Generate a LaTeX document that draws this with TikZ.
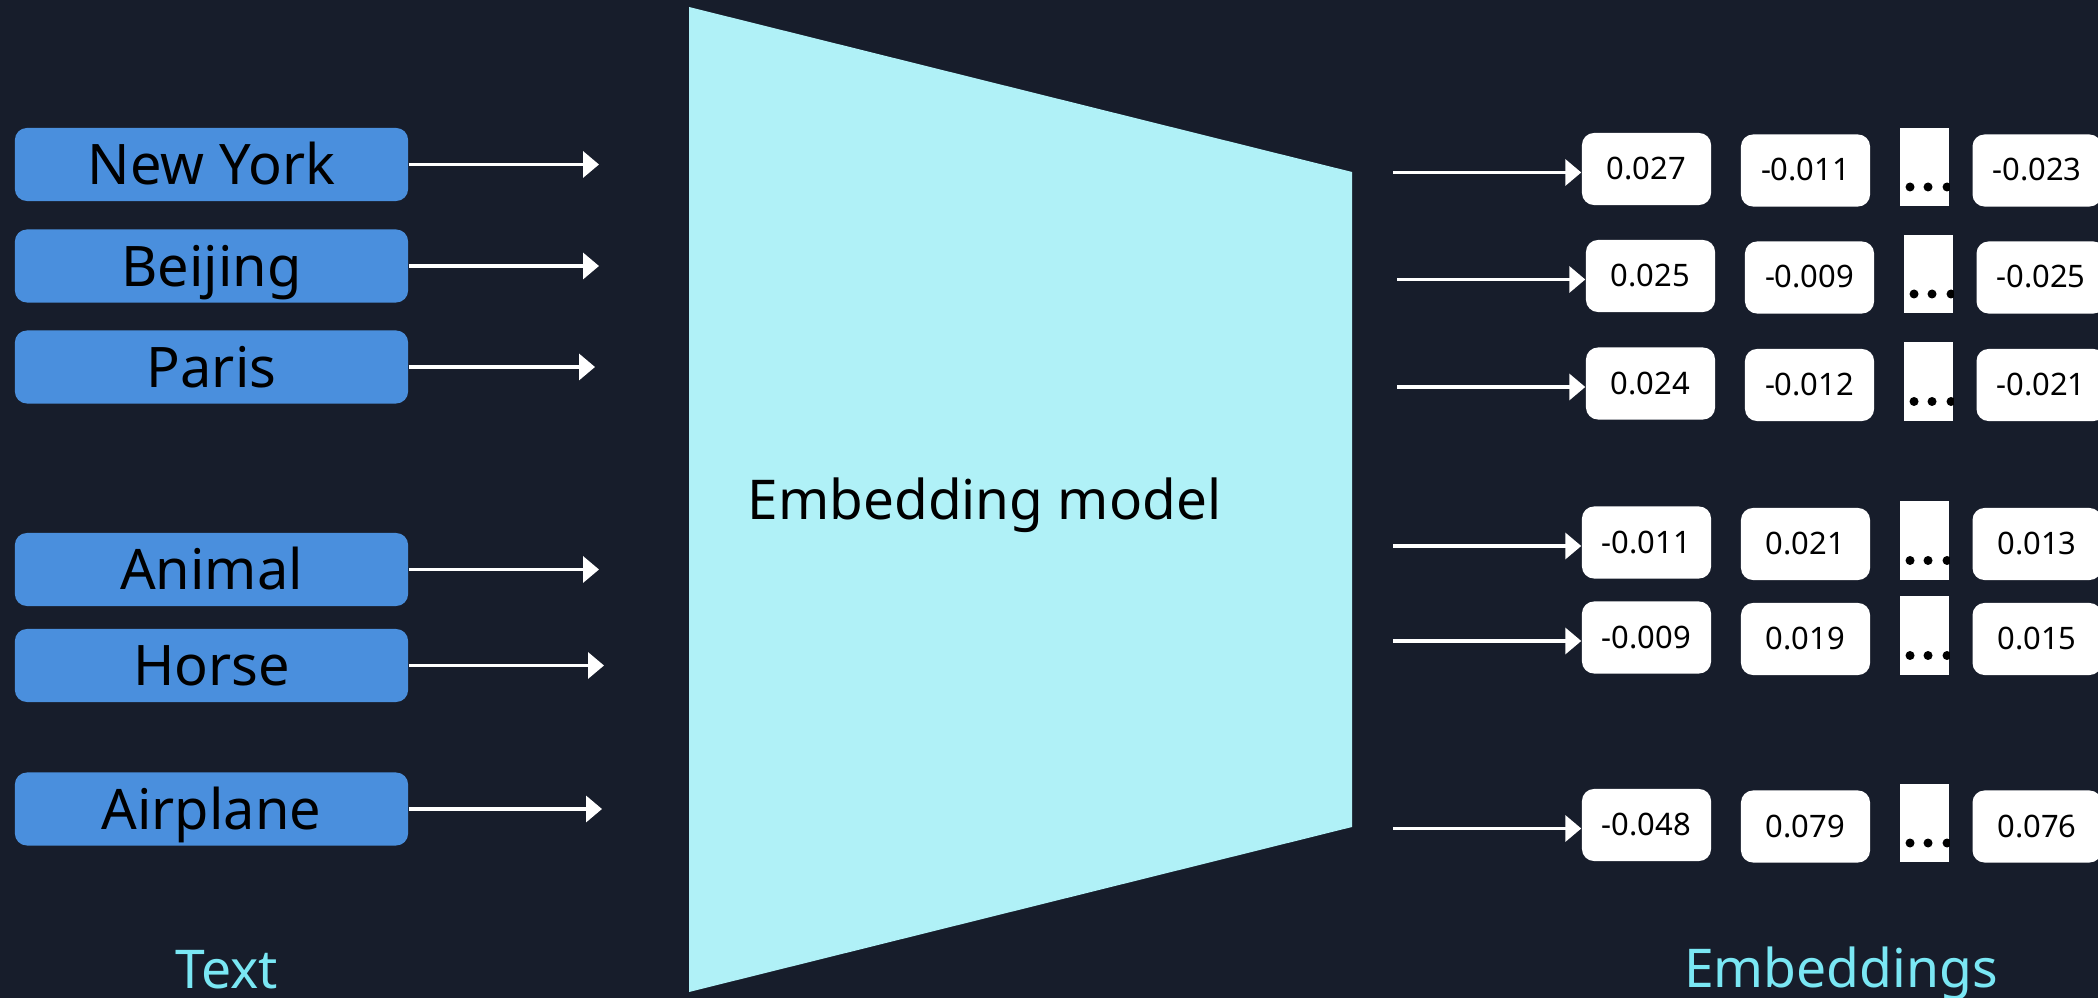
\documentclass[tikz,border=0pt]{standalone}
\usepackage{fontspec}
\setmainfont{Noto Sans}
\usetikzlibrary{arrows.meta}

\definecolor{bgnavy}{HTML}{171D2B}
\definecolor{boxblue}{HTML}{4A8FDD}
\definecolor{modelcyan}{HTML}{B0F1F7}
\definecolor{labelcyan}{HTML}{7AE7F4}

\tikzset{
  wordbox/.style={fill=boxblue, rounded corners=0.12cm, minimum width=3.93cm,
    minimum height=0.73cm, text height=0.40cm, text depth=0pt, inner sep=0pt,
    font=\fontsize{15.9pt}{18pt}\selectfont},
  valbox/.style={fill=white, rounded corners=0.12cm, minimum width=1.29cm,
    minimum height=0.72cm, text height=0.21cm, text depth=0pt, inner sep=0pt,
    font=\fontsize{8.8pt}{10pt}\selectfont},
  dotbox/.style={fill=white, minimum width=0.49cm, minimum height=0.78cm, inner sep=0pt},
  feed/.style={white, line width=1pt, -{Triangle[length=1.6mm,width=2.6mm]}},
  caption/.style={text=labelcyan, font=\fontsize{15.2pt}{18pt}\selectfont,
    text height=0.38cm, text depth=0pt, inner sep=0pt}
}

\begin{document}
\begin{tikzpicture}[x=0.01cm,y=-0.01cm]
  \fill[bgnavy] (0,0) rectangle (2098,998);
  \useasboundingbox (0,0) rectangle (2098,998);

  % model
  \fill[modelcyan] (689,7) -- (1352,172) -- (1352,827) -- (689,992) -- cycle;
  \node[font=\fontsize{15.6pt}{18pt}\selectfont, text height=0.40cm, text depth=0pt,
    inner sep=0pt] (model) at (984.5,499) {Embedding model};

  % inputs
  \node[wordbox] (newyork) at (211.5,164.5) {New York};
  \node[wordbox] (beijing) at (211.5,266) {Beijing};
  \node[wordbox] (paris) at (211.5,367) {Paris};
  \node[wordbox] (animal) at (211.5,569.5) {Animal};
  \node[wordbox] (horse) at (211.5,665.5) {Horse};
  \node[wordbox] (airplane) at (211.5,809) {Airplane};

  \coordinate (newyork-in) at (599,164.5);
  \coordinate (beijing-in) at (599,266);
  \coordinate (paris-in) at (595,367);
  \coordinate (animal-in) at (599,569.5);
  \coordinate (horse-in) at (604,665.5);
  \coordinate (airplane-in) at (602,809);
  \foreach \w in {newyork,beijing,paris,animal,horse,airplane}
    \draw[feed] (\w) -- (\w-in);

  % outputs
  \foreach \r/\dx/\cy/\va/\vb/\vd in {1/0/169/0.027/-0.011/-0.023,
      2/4/276/0.025/-0.009/-0.025, 3/4/383.5/0.024/-0.012/-0.021,
      4/0/542.5/-0.011/0.021/0.013, 5/0/637.5/-0.009/0.019/0.015,
      6/0/825/-0.048/0.079/0.076} {
    \node[valbox] (val\r-1) at (1646.5+\dx,\cy) {\va};
    \node[valbox] (val\r-2) at (1805.5+\dx,\cy+1.5) {\vb};
    \node[dotbox] (dots\r) at (1924.5+\dx,\cy-2) {};
    \node[valbox] (val\r-4) at (2037+\dx,\cy+1.5) {\vd};
    \begin{scope}
      \clip (dots\r.south west) rectangle (dots\r.north east);
      \foreach \k in {10,28,47}
        \fill[black] (1900+\dx+\k,\cy+18) circle[radius=4.5];
    \end{scope}
    \coordinate (emb\r) at (1393+\dx,\cy+3.5);
    \draw[feed] (emb\r) -- (emb\r -| val\r-1.west);
  }

  % captions
  \node[caption] (textlabel) at (226.5,969) {Text};
  \node[caption] (emblabel) at (1841,968) {Embeddings};
\end{tikzpicture}
\end{document}
